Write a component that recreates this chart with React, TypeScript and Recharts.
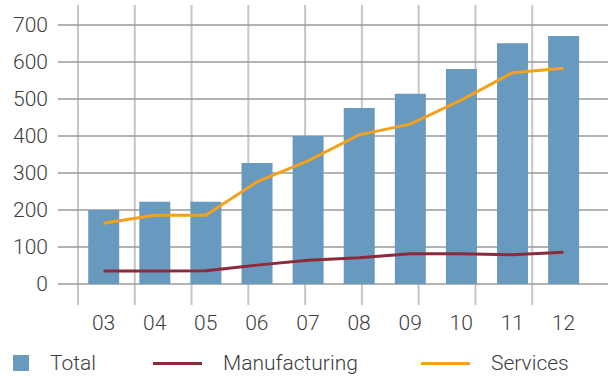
import { ComposedChart, Bar, Line, XAxis, YAxis, CartesianGrid, Legend } from 'recharts'

const years = ['03', '04', '05', '06', '07', '08', '09', '10', '11', '12']
const total = [200, 222, 222, 327, 400, 476, 514, 581, 651, 670]
const manufacturing = [35, 35, 36, 51, 64, 71, 82, 82, 79, 86]
const services = [164, 186, 186, 276, 333, 403, 432, 497, 571, 583]
const yTicks = [0, 100, 200, 300, 400, 500, 600, 700]
// band edges for the vertical grid lines
const bandEdges = years.map((_, i) => i).concat(years.length)

const data = years.map((year, i) => ({
  year,
  total: total[i],
  manufacturing: manufacturing[i],
  services: services[i],
}))

const FONT = 'Roboto, "Liberation Sans", sans-serif'
const TEXT = '#3d3d3d'
const BLUE = '#6899be'
const RED = '#8c2b3b'
const ORANGE = '#f5a11b'

const tickStyle = { fill: TEXT, fontSize: 21, fontWeight: 300, fontFamily: FONT }

const legendItems = [
  { key: 'total', label: 'Total', color: BLUE, kind: 'square', width: 140 },
  { key: 'manufacturing', label: 'Manufacturing', color: RED, kind: 'line', width: 268 },
  { key: 'services', label: 'Services', color: ORANGE, kind: 'line', width: 150 },
]

const ChartLegend = () => (
  <div style={{ display: 'flex', alignItems: 'center', height: 16, paddingTop: 14, paddingLeft: 13 }}>
    {legendItems.map((item) => (
      <div key={item.key} style={{ display: 'flex', alignItems: 'center', width: item.width }}>
        {item.kind === 'square' ? (
          <span style={{ display: 'inline-block', width: 16, height: 16, background: item.color }} />
        ) : (
          <span style={{ display: 'inline-block', width: 49, height: 3, background: item.color }} />
        )}
        <span
          style={{
            marginLeft: 21,
            fontSize: 21,
            fontWeight: 300,
            fontFamily: FONT,
            color: TEXT,
            lineHeight: '16px',
            whiteSpace: 'nowrap',
          }}
        >
          {item.label}
        </span>
      </div>
    ))}
  </div>
)

export default function App() {
  return (
    <div style={{ position: 'absolute', left: 0, top: 0, width: 608, height: 376, background: '#fff' }}>
      <ComposedChart
        width={608}
        height={376}
        data={data}
        margin={{ top: 5, right: 0, bottom: 5, left: 0 }}
        barCategoryGap="20%"
      >
        <CartesianGrid xAxisId="grid" horizontal={false} syncWithTicks stroke="#c6c6c6" strokeWidth={2} />
        <CartesianGrid xAxisId="grid" vertical={false} syncWithTicks stroke="#9a9a9a" strokeWidth={1.3} />
        <XAxis
          dataKey="year"
          height={36}
          padding={{ left: 20, right: 19 }}
          axisLine={false}
          tickLine={false}
          tickSize={0}
          tickMargin={10}
          tick={tickStyle}
          interval={0}
        />
        <XAxis
          xAxisId="grid"
          type="number"
          domain={[0, years.length]}
          ticks={bandEdges}
          padding={{ left: 20, right: 19 }}
          hide
        />
        <YAxis
          width={58}
          domain={[0, 700]}
          ticks={yTicks}
          padding={{ top: 20, bottom: 21 }}
          axisLine={false}
          tickLine={false}
          tickSize={0}
          tickMargin={10}
          tick={tickStyle}
          interval={0}
        />
        <Legend verticalAlign="bottom" content={<ChartLegend />} />
        <Bar dataKey="total" name="Total" fill={BLUE} isAnimationActive={false} />
        <Line
          dataKey="manufacturing"
          name="Manufacturing"
          stroke={RED}
          strokeWidth={3}
          dot={false}
          activeDot={false}
          isAnimationActive={false}
        />
        <Line
          dataKey="services"
          name="Services"
          stroke={ORANGE}
          strokeWidth={3}
          dot={false}
          activeDot={false}
          isAnimationActive={false}
        />
      </ComposedChart>
    </div>
  )
}
